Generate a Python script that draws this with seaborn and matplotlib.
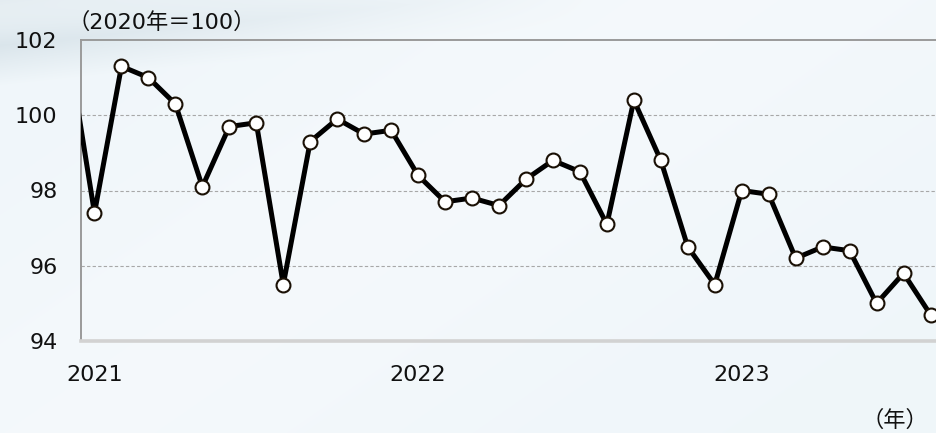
import numpy as np
import pandas as pd
import matplotlib
matplotlib.use("Agg")
import matplotlib.pyplot as plt
import seaborn as sns

# ---- data ----
months = ["2020-12",
          "2021-01", "2021-02", "2021-03", "2021-04", "2021-05", "2021-06",
          "2021-07", "2021-08", "2021-09", "2021-10", "2021-11", "2021-12",
          "2022-01", "2022-02", "2022-03", "2022-04", "2022-05", "2022-06",
          "2022-07", "2022-08", "2022-09", "2022-10", "2022-11", "2022-12",
          "2023-01", "2023-02", "2023-03", "2023-04", "2023-05", "2023-06",
          "2023-07", "2023-08"]
values = [101.9,
          97.4, 101.3, 101.0, 100.3, 98.1, 99.7,
          99.8, 95.5, 99.3, 99.9, 99.5, 99.6,
          98.4, 97.7, 97.8, 97.6, 98.3, 98.8,
          98.5, 97.1, 100.4, 98.8, 96.5, 95.5,
          98.0, 97.9, 96.2, 96.5, 96.4, 95.0,
          95.8, 94.7]
year_ticks = ["2021", "2022", "2023"]
y_ticks = [94, 96, 98, 100, 102]
y_title = "（2020年＝100）"
x_unit = "（年）"

# index positions: Jan 2021 = 0
idx = np.arange(len(months)) - 1
df = pd.DataFrame({"idx": idx, "value": values, "month": months})

sns.set_theme(style="white")
plt.rcParams["font.family"] = ["DejaVu Sans", "Noto Sans CJK JP"]

W, H = 937, 433
fig = plt.figure(figsize=(W / 100, H / 100), dpi=100)

# ---- background gradient ----
bg = fig.add_axes([0, 0, 1, 1])
bg.set_axis_off()
yy, xx = np.mgrid[0:H, 0:W]
base = np.array([0.94, 0.965, 0.98])
img = np.ones((H, W, 3)) * base
d = (xx / W) * 0.6 + (yy / H) * 0.4
white_w = np.exp(-((d - 0.45) / 0.25) ** 2) * 0.5
img = img * (1 - white_w[..., None]) + np.array([0.975, 0.985, 0.992]) * white_w[..., None]
# grayish-blue streak at top-left
band = np.clip(1 - np.abs((yy + 0.1 * xx) - 45) / 40.0, 0, 1) * np.clip(1 - xx / 600.0, 0, 1)
img = img * (1 - 0.6 * band[..., None]) + np.array([0.80, 0.855, 0.885]) * 0.6 * band[..., None]
corner = np.clip(1 - (yy + 0.1 * xx) / 30.0, 0, 1) * np.clip(1 - xx / 700.0, 0, 1)
img = img * (1 - 0.5 * corner[..., None]) + np.array([0.85, 0.89, 0.91]) * 0.5 * corner[..., None]
bg.imshow(img, extent=[0, 1, 0, 1], aspect="auto", transform=bg.transAxes, zorder=0)

# ---- main axes ----
left_px, right_px, top_px, bottom_px = 81, 944, 40, 341
ax = fig.add_axes([left_px / W, 1 - bottom_px / H,
                   (right_px - left_px) / W, (bottom_px - top_px) / H])
ax.set_facecolor("none")

sns.lineplot(data=df, x="idx", y="value", ax=ax, color="black", lw=3.6,
             marker="o", markersize=10, markerfacecolor="white",
             markeredgecolor="#1a1005", markeredgewidth=1.5, zorder=5)

ax.set_xlim(-0.5, 31.5)
ax.set_ylim(94, 102)
ax.set_yticks(y_ticks)
ax.set_yticklabels([str(v) for v in y_ticks])
ax.set_xticks([0, 12, 24])
ax.set_xticklabels(year_ticks)
ax.tick_params(axis="both", length=0, labelsize=16, colors="#111111")
ax.tick_params(axis="y", pad=17)
ax.tick_params(axis="x", pad=17)
ax.set_xlabel("")
ax.set_ylabel("")

for yv in [96, 98, 100]:
    ax.axhline(yv, color="#a8a8a8", lw=0.8, ls=(0, (3, 2)), zorder=1)

ax.spines["top"].set_color("#9a9a9a")
ax.spines["top"].set_linewidth(1.4)
ax.spines["left"].set_color("#9a9a9a")
ax.spines["left"].set_linewidth(1.4)
ax.spines["bottom"].set_color("#d2d2d2")
ax.spines["bottom"].set_linewidth(2.6)
ax.spines["right"].set_visible(False)

fig.text(68 / W, 1 - 22 / H, y_title, fontsize=16, ha="left", va="center", color="#111111")
fig.text(895 / W, 1 - 420 / H, x_unit, fontsize=16, ha="center", va="center", color="#111111")

fig.savefig("out.png", dpi=100)
